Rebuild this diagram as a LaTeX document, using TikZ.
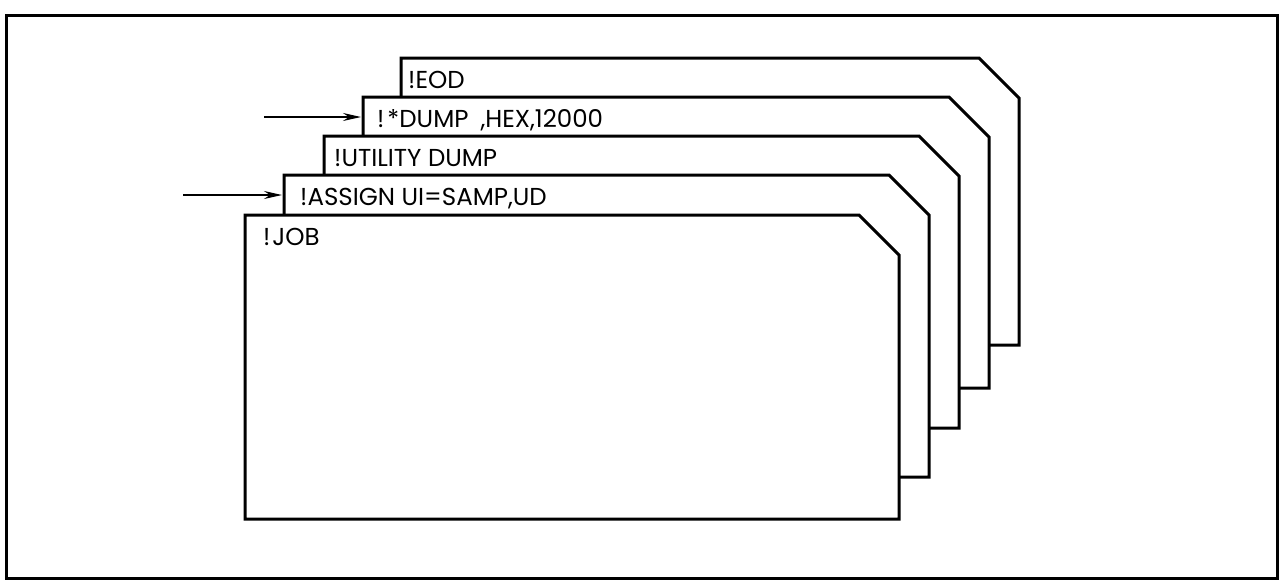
\documentclass[tikz,border=0pt]{standalone}
\usepackage{fontspec}
\setmainfont{Poppins}
\usetikzlibrary{arrows.meta}

\begin{document}
\begin{tikzpicture}[x=1pt,y=-1pt,
    card/.style={draw,line width=3pt,fill=white,line join=miter},
    cmd/.style={anchor=base west,inner sep=0pt,font=\fontsize{24.5}{29}\selectfont},
    arr/.style={-{Stealth[length=18pt,width=8pt]},line width=1.3pt,shorten >=2pt}
  ]
    \useasboundingbox (0,0) rectangle (1282,582);
    \draw[line width=3pt] (6,15) rectangle (1277,578);
    % cards, from the back to the front
    \foreach \n/\l/\t/\r/\b/\txt/\dx in {
        eod/401/58/1019/345/{!EOD}/7,
        dump/363/97/989/388/{!\kern3pt*DUMP\kern12pt,HEX,12000}/14,
        util/324/136/959/428/{!UTILITY DUMP}/10,
        assign/284/175/929/477/{!ASSIGN UI=SAMP,UD}/16,
        job/245/215/899/519/{!\kern2pt JOB}/18}{
      \draw[card] (\l,\b) -- (\l,\t) -- (\r-40,\t) -- (\r,\t+40) -- (\r,\b) -- cycle;
      \coordinate (\n-w) at (\l,\t+20);
      \node[cmd] (\n) at (\l+\dx,\t+30) {\txt};
    }
    \coordinate (dumpin) at (264,117);
    \coordinate (assignin) at (183,195);
    \draw[arr] (dumpin) -- (dump-w);
    \draw[arr] (assignin) -- (assign-w);
  \end{tikzpicture}
\end{document}
